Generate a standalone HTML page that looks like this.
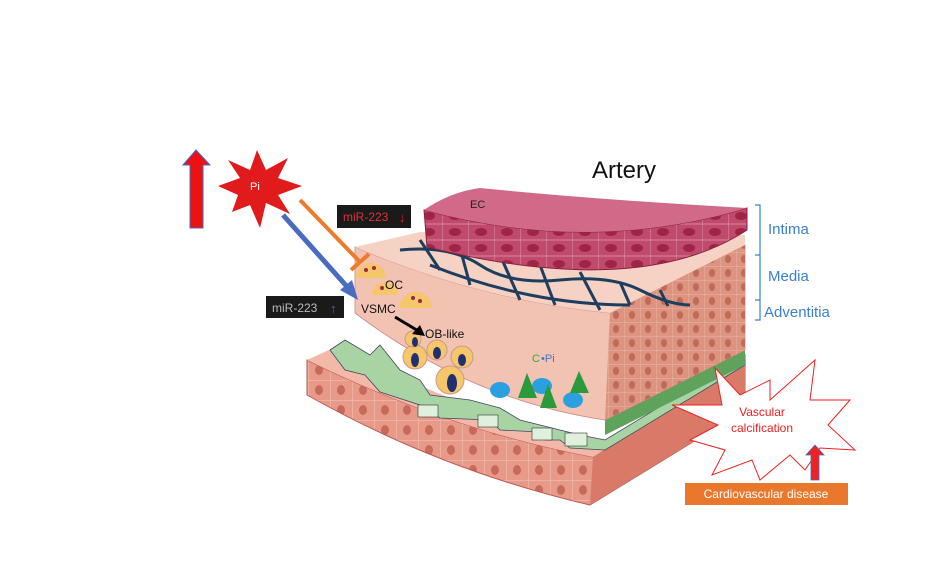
<!DOCTYPE html>
<html><head><meta charset="utf-8"><style>
html,body{margin:0;padding:0;background:#fff;}
svg{display:block;font-family:"Liberation Sans",sans-serif;}
</style></head><body>
<svg width="940" height="563" viewBox="0 0 940 563" xmlns="http://www.w3.org/2000/svg">
<defs>
<pattern id="cellsI" width="26" height="16" patternUnits="userSpaceOnUse">
<rect width="26" height="16" fill="#c04a6c"/>
<ellipse cx="13" cy="8" rx="6" ry="4" fill="#a02448"/>
<path d="M0,0 L26,0 M0,16 L26,16 M0,0 L0,16" stroke="#f0c0d0" stroke-width="0.6"/>
</pattern>
<pattern id="cellsB" width="22" height="20" patternUnits="userSpaceOnUse">
<rect width="22" height="20" fill="#e89a88"/>
<ellipse cx="11" cy="10" rx="4" ry="5" fill="#c86a5a"/>
<path d="M0,0 L0,20 M0,0 L22,0" stroke="#fbd8cc" stroke-width="0.7"/>
</pattern>
<pattern id="cellsR" width="16" height="14" patternUnits="userSpaceOnUse">
<rect width="16" height="14" fill="#dc9480"/>
<ellipse cx="8" cy="7" rx="3" ry="4" fill="#c06a58"/>
<path d="M0,0 L0,14 M0,0 L16,0" stroke="#f3c4b4" stroke-width="0.7"/>
</pattern>
</defs>
<rect width="940" height="563" fill="#fff"/>
<!-- bottom slab -->
<path d="M307,360 Q450,430 593,457 L745,360 L745,410 L590,505 Q440,470 307,395 Z" fill="url(#cellsB)" stroke="#b55" stroke-width="1"/>
<path d="M593,457 L745,360 L745,410 L590,505 Z" fill="#d97a68"/>
<path d="M307,360 L340,345 Q470,420 610,440 L745,360 L593,457 Q450,430 307,360Z" fill="#f2b8a8"/>
<!-- green wavy layer -->
<path d="M330,350 L345,340 L370,355 L380,345 L400,370 L420,380 L430,395 L470,400 L500,408 L520,420 L540,425 L560,430 L580,435 L605,440 L745,355 L745,365 L605,450 L570,448 L560,440 L545,440 L540,432 L500,430 L490,420 L440,418 L420,405 L380,392 L365,375 L345,370 Z" fill="#a8d4a4" stroke="#446" stroke-width="0.8"/>
<rect x="418" y="405" width="20" height="12" fill="#dff0dc" stroke="#333" stroke-width="0.6"/>
<rect x="478" y="415" width="20" height="12" fill="#dff0dc" stroke="#333" stroke-width="0.6"/>
<rect x="532" y="428" width="20" height="12" fill="#dff0dc" stroke="#333" stroke-width="0.6"/>
<rect x="565" y="433" width="22" height="13" fill="#dff0dc" stroke="#333" stroke-width="0.6"/>
<!-- media block -->
<path d="M605,420 L745,350 L745,365 L605,435 Z" fill="#5fa25c"/>
<path d="M355,247 Q480,300 610,313 L745,245 L745,350 L605,420 Q470,400 355,313 Z" fill="#f2c2b2" stroke="#c88" stroke-width="0.8"/>
<path d="M610,313 L745,245 L745,350 L605,420 Z" fill="url(#cellsR)"/>
<path d="M355,247 L420,232 L745,235 L745,245 L610,313 Q480,300 355,247 Z" fill="#f6d2c4"/>
<!-- elastic fibers -->
<g stroke="#1d3e5e" stroke-width="3" fill="none">
<path d="M400,250 Q450,245 480,265 T560,280 T640,290 T690,305"/>
<path d="M420,240 L440,270 M460,248 L470,285 M500,255 L520,300 M540,265 L555,305 M580,272 L600,310 M620,282 L630,305 M660,290 L668,306"/>
<path d="M430,265 Q480,285 530,295 T630,305"/>
</g>
<!-- intima -->
<path d="M424,210 Q590,255 747,208 L747,230 Q640,300 427,247 Z" fill="url(#cellsI)" stroke="#8a2040" stroke-width="1"/>
<path d="M424,210 Q450,192 480,188 Q600,200 747,208 Q590,255 424,210Z" fill="#d06a88"/>
<text x="470" y="208" font-size="11" fill="#222">EC</text>
<!-- cells -->
<g fill="#f5c66a" stroke="#c98">
<circle cx="415" cy="357" r="12"/><circle cx="437" cy="350" r="10"/><circle cx="462" cy="357" r="11"/><circle cx="450" cy="380" r="14"/><circle cx="413" cy="339" r="8"/>
</g>
<g fill="#233070"><ellipse cx="415" cy="360" rx="4" ry="7"/><ellipse cx="437" cy="353" rx="4" ry="6"/><ellipse cx="462" cy="360" rx="4" ry="6"/><ellipse cx="452" cy="383" rx="5" ry="9"/><ellipse cx="415" cy="342" rx="3" ry="5"/></g>
<g fill="#f5c66a"><path d="M356,278 A15,15 0 0 1 386,278 Z"/><path d="M372,295 A13,13 0 0 1 398,295 Z"/><path d="M400,308 A16,16 0 0 1 432,308 Z"/></g>
<g fill="#a02448"><circle cx="366" cy="270" r="2"/><circle cx="374" cy="268" r="2"/><circle cx="382" cy="288" r="2"/><circle cx="413" cy="298" r="2"/><circle cx="420" cy="301" r="2"/></g>
<text x="385" y="289" font-size="12" fill="#111">OC</text>
<text x="361" y="313" font-size="12" fill="#111">VSMC</text>
<line x1="395" y1="317" x2="420" y2="332" stroke="#000" stroke-width="3"/>
<polygon points="425,336 412,334 420,325" fill="#000"/>
<text x="425" y="338" font-size="12" fill="#111">OB-like</text>
<text x="532" y="362" font-size="11" fill="#3a3">C</text><text x="541" y="362" font-size="11" fill="#47c">•Pi</text>
<g fill="#2ba0e0"><ellipse cx="500" cy="390" rx="10" ry="8"/><ellipse cx="542" cy="386" rx="10" ry="8"/><ellipse cx="573" cy="400" rx="10" ry="8"/></g>
<g fill="#2a9a3a"><polygon points="527,373 518,398 537,398"/><polygon points="548,384 540,408 557,408"/><polygon points="579,371 570,393 589,393"/></g>
<!-- Pi -->
<polygon points="183,165 196,150 210,165 203,165 203,228 190,228 190,165" fill="#e11" stroke="#46c" stroke-width="1"/>
<polygon points="257,150 266,170 288,158 278,178 302,186 278,195 290,214 266,203 260,228 250,205 232,212 238,195 218,186 240,178 228,160 250,170" fill="#e11b1b"/>
<text x="250" y="190" font-size="11" fill="#fff">Pi</text>
<line x1="300" y1="200" x2="360" y2="262" stroke="#ef7a2a" stroke-width="4"/>
<line x1="351" y1="270" x2="369" y2="254" stroke="#ef7a2a" stroke-width="4"/>
<line x1="283" y1="215" x2="350" y2="290" stroke="#4a6cc0" stroke-width="5"/>
<polygon points="358,300 340,290 352,280" fill="#4a6cc0"/>
<rect x="337" y="205" width="74" height="23" fill="#1a1a1a"/>
<text x="343" y="221" font-size="12" fill="#d33">miR-223</text>
<text x="399" y="222" font-size="13" fill="#e22">↓</text>
<rect x="266" y="296" width="78" height="22" fill="#1a1a1a"/>
<text x="272" y="312" font-size="12" fill="#bbb">miR-223</text>
<text x="330" y="313" font-size="13" fill="#46c">↑</text>
<text x="592" y="178" font-size="24" fill="#111">Artery</text>
<!-- brackets -->
<g stroke="#3a7fd0" stroke-width="1.2" fill="none">
<path d="M755,205 H760 V255 H755 M760,255 V300 H755 M760,300 V320 H755"/>
</g>
<g font-size="15" fill="#3a7fd0"><text x="768" y="234">Intima</text><text x="768" y="281">Media</text><text x="764" y="317">Adventitia</text></g>
<!-- vascular calcification -->
<polygon points="715,368 740,395 770,380 770,400 815,360 810,400 850,400 828,425 855,450 820,448 805,470 790,455 760,480 752,460 712,475 725,450 690,440 718,425 672,405 722,405" fill="#fff" stroke="#e22" stroke-width="1"/>
<text x="762" y="416" font-size="12" fill="#e22" text-anchor="middle">Vascular</text>
<text x="762" y="432" font-size="12" fill="#e22" text-anchor="middle">calcification</text>
<polygon points="815,445 824,455 819,455 819,480 811,480 811,455 806,455" fill="#e22" stroke="#46c" stroke-width="0.8"/>
<rect x="685" y="483" width="163" height="22" fill="#e9782d"/>
<text x="766" y="498" font-size="12" fill="#fff" text-anchor="middle">Cardiovascular disease</text>
</svg>
</body></html>
